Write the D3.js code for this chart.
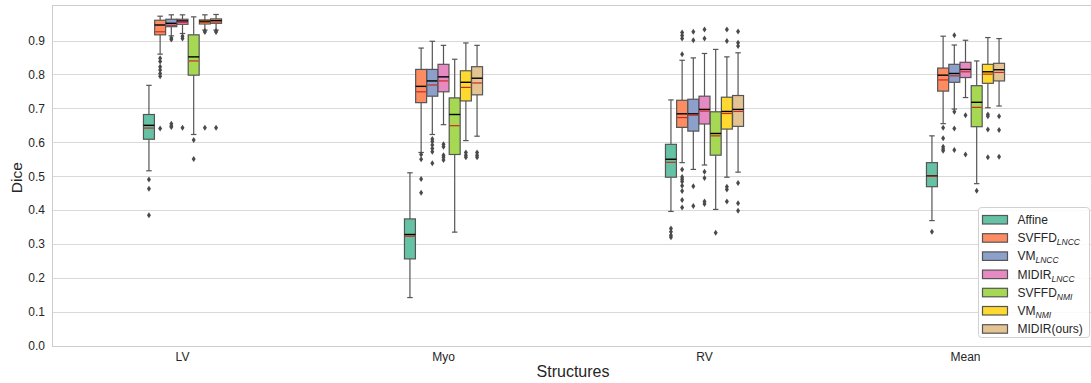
<!DOCTYPE html>
<html>
<head>
<meta charset="utf-8">
<script src="https://cdn.jsdelivr.net/npm/d3@7/dist/d3.min.js"></script>
<style>
  body { margin: 0; background: #fff; }
  svg { display: block; font-family: "Liberation Sans", Arial, sans-serif; }
</style>
</head>
<body>
<div id="chart"></div>
<script>
const categories = ['LV', 'Myo', 'RV', 'Mean'];
const methods = ['Affine', 'SVFFD', 'VM', 'MIDIR', 'SVFFD', 'VM', 'MIDIR(ours)'];
const methodSubs = ['', 'LNCC', 'LNCC', 'LNCC', 'NMI', 'NMI', ''];
const yTicks = [0, 0.1, 0.2, 0.3, 0.4, 0.5, 0.6, 0.7, 0.8, 0.9];

// per structure, per method (same order as methods)
const q3 = [
  [0.682, 0.960, 0.963, 0.963, 0.917, 0.961, 0.964],
  [0.374, 0.815, 0.815, 0.830, 0.731, 0.811, 0.823],
  [0.594, 0.724, 0.727, 0.736, 0.690, 0.733, 0.738],
  [0.540, 0.819, 0.830, 0.836, 0.767, 0.830, 0.833]
];
const medians = [
  [0.650, 0.946, 0.951, 0.958, 0.852, 0.957, 0.959],
  [0.328, 0.765, 0.781, 0.793, 0.682, 0.777, 0.789],
  [0.550, 0.684, 0.684, 0.697, 0.626, 0.691, 0.697],
  [0.501, 0.798, 0.803, 0.815, 0.718, 0.808, 0.814]
];
const means = [
  [0.642, 0.926, 0.945, 0.954, 0.840, 0.954, 0.955],
  [0.323, 0.749, 0.769, 0.781, 0.649, 0.762, 0.775],
  [0.541, 0.673, 0.680, 0.692, 0.619, 0.685, 0.691],
  [0.500, 0.784, 0.796, 0.808, 0.703, 0.801, 0.806]
];
const q1 = [
  [0.609, 0.917, 0.941, 0.948, 0.798, 0.949, 0.951],
  [0.256, 0.717, 0.736, 0.749, 0.564, 0.722, 0.740],
  [0.497, 0.644, 0.633, 0.654, 0.562, 0.639, 0.647],
  [0.469, 0.751, 0.777, 0.791, 0.646, 0.774, 0.781]
];
const whiskHi = [
  [0.768, 0.972, 0.976, 0.976, 0.970, 0.976, 0.977],
  [0.510, 0.878, 0.898, 0.886, 0.845, 0.893, 0.886],
  [0.725, 0.842, 0.849, 0.862, 0.874, 0.852, 0.864],
  [0.619, 0.913, 0.887, 0.901, 0.840, 0.909, 0.906]
];
const whiskLo = [
  [0.516, 0.860, 0.914, 0.921, 0.623, 0.931, 0.931],
  [0.142, 0.570, 0.623, 0.652, 0.335, 0.605, 0.618],
  [0.396, 0.540, 0.520, 0.533, 0.402, 0.497, 0.512],
  [0.369, 0.655, 0.698, 0.732, 0.478, 0.702, 0.707]
];
const outliers = [
  [[0.490, 0.463, 0.385],
   [0.848, 0.838, 0.823, 0.813, 0.803, 0.795, 0.641],
   [0.908, 0.903, 0.655, 0.648, 0.645],
   [0.913, 0.906, 0.643],
   [0.607, 0.551],
   [0.928, 0.925, 0.643],
   [0.928, 0.925, 0.643]],
  [[],
   [0.564, 0.550, 0.492, 0.451],
   [0.610, 0.602, 0.592, 0.582, 0.572, 0.538],
   [0.594, 0.587, 0.562, 0.556, 0.548],
   [],
   [0.570, 0.562, 0.556],
   [0.570, 0.562, 0.556]],
  [[0.346, 0.336, 0.326, 0.320],
   [0.924, 0.915, 0.906, 0.860, 0.520, 0.498, 0.491, 0.484, 0.472, 0.456, 0.430, 0.408],
   [0.926, 0.901, 0.470, 0.412],
   [0.933, 0.906, 0.513, 0.495, 0.425, 0.418],
   [0.333],
   [0.933, 0.899, 0.469, 0.461, 0.425],
   [0.927, 0.894, 0.884, 0.480, 0.420, 0.398]],
  [[0.336],
   [0.643, 0.612, 0.587, 0.580, 0.575],
   [0.916, 0.690, 0.641, 0.577],
   [0.680, 0.564],
   [0.457],
   [0.682, 0.677, 0.638, 0.556],
   [0.677, 0.636, 0.557]]
];

const W = 1091, H = 383;
const margin = { top: 5, left: 52, bottom: 37 };
const plotRight = 1096;  // axes run a little past the picture edge
const textColor = '#262626';
const lineColor = '#555555';
const colors = d3.schemeSet2.slice(0, methods.length);

const svg = d3.select('#chart').append('svg')
  .attr('width', W)
  .attr('height', H);

const x = d3.scaleBand()
  .domain(categories)
  .range([margin.left, plotRight]);

const groupW = x.bandwidth() * 0.3;
const hue = d3.scaleBand()
  .domain(d3.range(methods.length))
  .range([-groupW / 2, groupW / 2]);
const boxW = hue.bandwidth() * 0.98;

const y = d3.scaleLinear()
  .domain([0, 1.005])
  .range([H - margin.bottom - 0.3, margin.top]);

// grid
svg.append('g')
  .selectAll('line')
  .data(yTicks)
  .join('line')
    .attr('x1', margin.left)
    .attr('x2', plotRight)
    .attr('y1', d => Math.round(y(d)) + 0.5)
    .attr('y2', d => Math.round(y(d)) + 0.5)
    .attr('stroke', '#d9d9d9')
    .attr('stroke-width', 1);

// spines
const yBottom = Math.round(y(0)) + 0.5;
svg.append('line')
  .attr('x1', margin.left + 0.5).attr('x2', margin.left + 0.5)
  .attr('y1', margin.top).attr('y2', yBottom)
  .attr('stroke', '#cccccc');
svg.append('line')
  .attr('x1', margin.left).attr('x2', plotRight)
  .attr('y1', yBottom).attr('y2', yBottom)
  .attr('stroke', '#cccccc');
svg.append('line')
  .attr('x1', margin.left).attr('x2', plotRight)
  .attr('y1', margin.top + 0.5).attr('y2', margin.top + 0.5)
  .attr('stroke', '#cccccc');

// axes (no tick marks, seaborn whitegrid style)
const yAxis = svg.append('g')
  .attr('transform', `translate(${margin.left},0)`)
  .call(d3.axisLeft(y).tickValues(yTicks).tickFormat(d3.format('.1f')).tickSize(0).tickPadding(7));
yAxis.select('.domain').remove();
yAxis.selectAll('text').attr('fill', textColor).style('font-size', '12px').style('font-family', 'inherit');

const xAxis = svg.append('g')
  .attr('transform', `translate(0,${yBottom})`)
  .call(d3.axisBottom(x).tickSize(0).tickPadding(6));
xAxis.select('.domain').remove();
xAxis.selectAll('text').attr('fill', textColor).style('font-size', '12px').style('font-family', 'inherit');

svg.append('text')
  .attr('transform', `translate(22,${(margin.top + yBottom) / 2 + 2}) rotate(-90)`)
  .attr('text-anchor', 'middle')
  .attr('fill', textColor)
  .style('font-size', '15.5px')
  .text('Dice');

svg.append('text')
  .attr('x', (margin.left + plotRight) / 2 - 1)
  .attr('y', 377)
  .attr('text-anchor', 'middle')
  .attr('fill', textColor)
  .style('font-size', '16px')
  .text('Structures');

// boxes
const boxes = [];
categories.forEach((cat, ci) => {
  methods.forEach((m, mi) => {
    boxes.push({
      cx: x(cat) + x.bandwidth() / 2 + hue(mi) + hue.bandwidth() / 2,
      color: colors[mi],
      q1: q1[ci][mi], q3: q3[ci][mi],
      med: medians[ci][mi], mean: means[ci][mi],
      lo: whiskLo[ci][mi], hi: whiskHi[ci][mi],
      fliers: outliers[ci][mi]
    });
  });
});

const bg = svg.append('g').selectAll('g')
  .data(boxes)
  .join('g');

// whiskers
bg.append('line')
  .attr('x1', d => d.cx).attr('x2', d => d.cx)
  .attr('y1', d => y(d.hi)).attr('y2', d => y(d.q3))
  .attr('stroke', lineColor).attr('stroke-width', 1.2);
bg.append('line')
  .attr('x1', d => d.cx).attr('x2', d => d.cx)
  .attr('y1', d => y(d.q1)).attr('y2', d => y(d.lo))
  .attr('stroke', lineColor).attr('stroke-width', 1.2);
// caps
bg.selectAll('line.cap')
  .data(d => [{ cx: d.cx, v: d.hi }, { cx: d.cx, v: d.lo }])
  .join('line')
    .attr('class', 'cap')
    .attr('x1', d => d.cx - boxW / 4).attr('x2', d => d.cx + boxW / 4)
    .attr('y1', d => y(d.v)).attr('y2', d => y(d.v))
    .attr('stroke', lineColor).attr('stroke-width', 1.2);

bg.append('rect')
  .attr('x', d => d.cx - boxW / 2)
  .attr('width', boxW)
  .attr('y', d => y(d.q3))
  .attr('height', d => y(d.q1) - y(d.q3))
  .attr('fill', d => d.color)
  .attr('stroke', lineColor)
  .attr('stroke-width', 1.2);

bg.append('line')
  .attr('x1', d => d.cx - boxW / 2).attr('x2', d => d.cx + boxW / 2)
  .attr('y1', d => y(d.med)).attr('y2', d => y(d.med))
  .attr('stroke', '#000').attr('stroke-width', 1.4);
bg.append('line')
  .attr('x1', d => d.cx - boxW / 2 + 0.6).attr('x2', d => d.cx + boxW / 2 - 0.6)
  .attr('y1', d => y(d.mean)).attr('y2', d => y(d.mean))
  .attr('stroke', '#cc2a1e').attr('stroke-width', 1.2);

// outliers (thin diamonds)
bg.selectAll('path.flier')
  .data(d => d.fliers.map(v => ({ cx: d.cx, v })))
  .join('path')
    .attr('class', 'flier')
    .attr('d', 'M0,-3L2,0L0,3L-2,0Z')
    .attr('transform', d => `translate(${d.cx},${y(d.v)})`)
    .attr('fill', '#4a4a4a');

// legend
const legX = 978.5, legY = 207.5, rowH = 18.2;
const legend = svg.append('g');
legend.append('rect')
  .attr('x', legX).attr('y', legY)
  .attr('width', 111).attr('height', 130)
  .attr('rx', 3)
  .attr('fill', 'rgba(255,255,255,0.85)')
  .attr('stroke', '#d0d0d0');

const items = legend.selectAll('g.item')
  .data(methods)
  .join('g')
    .attr('class', 'item')
    .attr('transform', (d, i) => `translate(${legX + 4},${legY + 12 + i * rowH})`);

items.append('rect')
  .attr('x', 0).attr('y', -4)
  .attr('width', 25).attr('height', 8.5)
  .attr('fill', (d, i) => colors[i])
  .attr('stroke', lineColor)
  .attr('stroke-width', 1.2);

const lt = items.append('text')
  .attr('x', 35).attr('y', 4.5)
  .attr('fill', textColor)
  .style('font-size', '12px');
lt.append('tspan').text(d => d);
lt.append('tspan')
  .attr('dy', 3)
  .style('font-size', '8.5px')
  .style('font-style', 'italic')
  .text((d, i) => methodSubs[i]);
</script>
</body>
</html>
